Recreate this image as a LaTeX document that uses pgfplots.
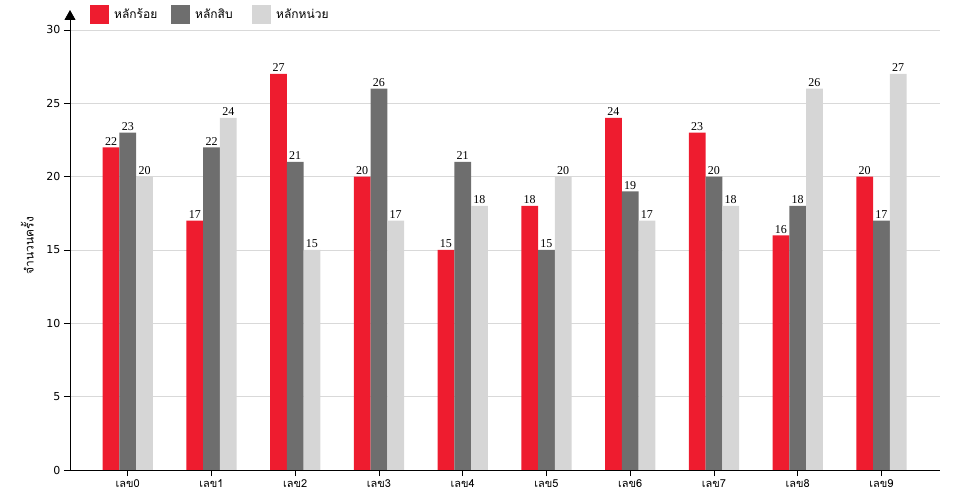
\documentclass[border=0pt]{standalone}
\usepackage{fontspec}
\usepackage{pgfplots}
\pgfplotsset{compat=1.18}
\usetikzlibrary{arrows.meta}
\setmainfont{DejaVu Sans}
\newfontfamily\thai[Script=Thai]{Loma}
\newfontfamily\valfont{Liberation Serif}
\definecolor{cRed}{HTML}{EE1C2F}
\definecolor{cDark}{HTML}{6E6E6E}
\definecolor{cLight}{HTML}{D6D6D6}
\newcommand{\legtext}[1]{\makebox[58pt][l]{\hspace{3pt}#1}}

\begin{document}
\begin{tikzpicture}
\path[use as bounding box] (0,0) rectangle (960pt,500pt);
\begin{axis}[
    at={(70pt,30pt)}, anchor=south west,
    scale only axis, width=870pt, height=440pt,
    ybar=0pt, bar width=0.2,
    xmin=-0.69, xmax=9.70, ymin=0, ymax=30,
    xtick={0,1,2,3,4,5,6,7,8,9},
    xticklabels={เลข0,เลข1,เลข2,เลข3,เลข4,เลข5,เลข6,เลข7,เลข8,เลข9},
    ytick={0,5,10,15,20,25,30},
    axis x line*=bottom, axis y line*=left,
    y axis line style={-{Triangle[width=11pt,length=10pt]}, shorten >=-20pt},
    tick align=outside, major tick length=6pt,
    tick style={black, line width=0.8pt},
    axis line style={line width=0.8pt},
    ymajorgrids, grid style={gray!30, line width=0.8pt},
    /pgf/number format/assume math mode=true,
    y tick label style={font=\fontsize{11}{13}\selectfont},
    x tick label style={font=\thai\fontsize{11}{13}\selectfont},
    ylabel={จำนวนครั้ง},
    every axis y label/.style={at={(axis description cs:-0.049,0.51)}, rotate=90, anchor=center, font=\thai\fontsize{12}{14}\selectfont},
    nodes near coords,
    every node near coord/.append style={font=\valfont\fontsize{12}{14}\selectfont, black, inner sep=2pt},
    legend style={at={(axis description cs:0.023,1.057)}, anchor=north west, draw=none, fill=none,
        font=\thai\fontsize{12}{14}\selectfont, inner sep=0pt,
        /tikz/every even column/.append style={column sep=0pt}},
    legend columns=3,
    legend image code/.code={\fill[#1] (0pt,-9.5pt) rectangle (19pt,9.5pt);},
]
\addplot[fill=cRed, draw=none] coordinates {
    (0,22) (1,17) (2,27) (3,20) (4,15) (5,18) (6,24) (7,23) (8,16) (9,20)
};
\addlegendentry{\legtext{หลักร้อย}}
\addplot[fill=cDark, draw=none] coordinates {
    (0,23) (1,22) (2,21) (3,26) (4,21) (5,15) (6,19) (7,20) (8,18) (9,17)
};
\addlegendentry{\legtext{หลักสิบ}}
\addplot[fill=cLight, draw=none] coordinates {
    (0,20) (1,24) (2,15) (3,17) (4,18) (5,20) (6,17) (7,18) (8,26) (9,27)
};
\addlegendentry{\legtext{หลักหน่วย}}
\end{axis}
\end{tikzpicture}
\end{document}
